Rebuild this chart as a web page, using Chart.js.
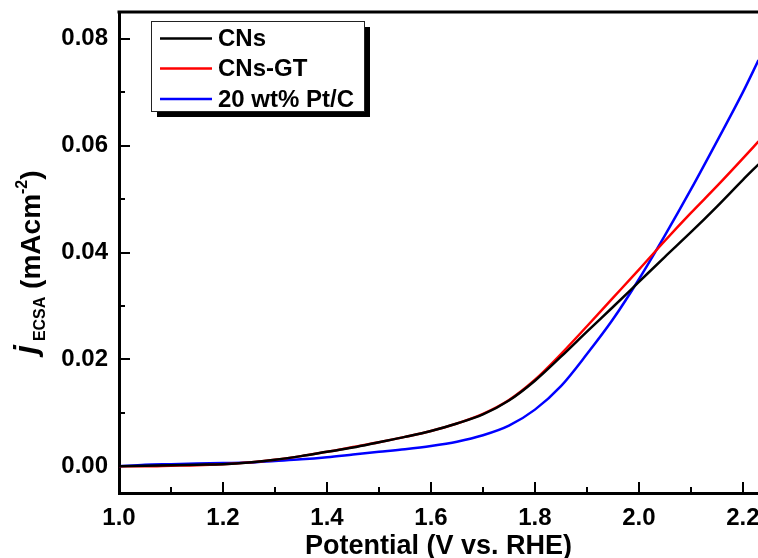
<!DOCTYPE html>
<html><head><meta charset="utf-8">
<script src="https://cdn.jsdelivr.net/npm/chart.js@4/dist/chart.umd.min.js"></script>
<style>html,body{margin:0;padding:0;background:#fff;overflow:hidden}#wrap{width:758px;height:558px}</style>
</head><body><div id="wrap"><canvas id="c" width="758" height="558"></canvas></div>
<script>
// ---- data ----
const potential = [1.00,1.05,1.10,1.15,1.20,1.25,1.30,1.35,1.40,1.45,1.50,1.55,1.60,1.65,1.70,1.75,1.80,1.85,1.90,1.95,2.00,2.05,2.10,2.15,2.20,2.23];
const cns      = [0.0000,0.0001,0.0002,0.0003,0.0004,0.0007,0.0012,0.0019,0.0027,0.0035,0.0045,0.0055,0.0066,0.0080,0.0097,0.0123,0.0160,0.0205,0.0252,0.0298,0.0345,0.0392,0.0438,0.0486,0.0536,0.0565];
const cnsGT    = [0.0000,0.0000,0.0001,0.0002,0.0004,0.0007,0.0012,0.0019,0.0027,0.0036,0.0045,0.0055,0.0066,0.0080,0.0098,0.0124,0.0162,0.0210,0.0262,0.0315,0.0368,0.0422,0.0474,0.0524,0.0576,0.0608];
const ptc      = [0.0000,0.0003,0.0004,0.0005,0.0006,0.0007,0.0010,0.0013,0.0017,0.0022,0.0027,0.0032,0.0038,0.0046,0.0058,0.0076,0.0106,0.0150,0.0210,0.0275,0.0350,0.0432,0.0518,0.0608,0.0700,0.0760];
const seriesNames = ['CNs','CNs-GT','20 wt% Pt/C'];
const seriesColors = ['#000000','#ff0000','#0000ff'];
const xTitle = 'Potential (V vs. RHE)';
const xRange = [1.0, 2.229];
const yRange = [-0.005, 0.085];

const FONT = "'Liberation Sans', Arial, sans-serif";
const toPts = ys => potential.map((x,i)=>({x, y: ys[i]}));
const seriesValues = [cns, cnsGT, ptc];

const framePlugin = {
  id: 'frame',
  afterDraw(chart) {
    const ctx = chart.ctx;
    const {left, right, top, bottom} = chart.chartArea;
    const xs = chart.scales.x, ys = chart.scales.y;
    ctx.save();
    ctx.strokeStyle = '#000';
    // top frame line
    ctx.lineWidth = 3;
    ctx.beginPath(); ctx.moveTo(left - 1.5, top); ctx.lineTo(chart.width, top); ctx.stroke();
    // inward ticks (major + minor) from scale ticks
    ctx.lineWidth = 2;
    const xt = xs.ticks.map(t => t.value);
    const xstep = xt[1] - xt[0];
    xt.forEach(v => {
      [[v, 11], [v + xstep/2, 6]].forEach(([val, len]) => {
        if (val < xs.min || val > xs.max) return;
        const px = Math.round(xs.getPixelForValue(val));
        ctx.beginPath(); ctx.moveTo(px, bottom); ctx.lineTo(px, bottom - len); ctx.stroke();
      });
    });
    const yt = ys.ticks.map(t => t.value);
    const ystep = yt[1] - yt[0];
    yt.forEach(v => {
      [[v, 11], [v + ystep/2, 6]].forEach(([val, len]) => {
        if (val < ys.min || val > ys.max) return;
        const py = Math.round(ys.getPixelForValue(val));
        ctx.beginPath(); ctx.moveTo(left, py); ctx.lineTo(left + len, py); ctx.stroke();
      });
    });
    // legend box with shadow
    const bx = 151, by = 21, bw = 213, bh = 90, sh = 6;
    ctx.fillStyle = '#000';
    ctx.fillRect(bx + sh, by + sh, bw, bh);
    ctx.fillStyle = '#fff';
    ctx.fillRect(bx, by, bw, bh);
    ctx.lineWidth = 1;
    ctx.strokeStyle = '#222';
    ctx.strokeRect(bx + 0.5, by + 0.5, bw, bh);
    const rows = [38.5, 68.5, 99];
    chart.data.datasets.forEach((ds, i) => {
      ctx.strokeStyle = ds.borderColor;
      ctx.lineWidth = 2.5;
      ctx.beginPath(); ctx.moveTo(160, rows[i]); ctx.lineTo(212, rows[i]); ctx.stroke();
      ctx.fillStyle = '#000';
      ctx.font = 'bold 24px ' + FONT;
      ctx.textBaseline = 'middle';
      ctx.textAlign = 'left';
      ctx.fillText(ds.label, 218, rows[i] + 1, 142);
    });
    // y-axis title with italic j, subscript and superscript
    ctx.translate(40, 354);
    ctx.rotate(-Math.PI/2);
    ctx.fillStyle = '#000';
    ctx.textBaseline = 'alphabetic';
    ctx.textAlign = 'left';
    let pos = 0;
    ctx.font = 'italic bold 32px ' + FONT;
    ctx.fillText('j', pos, -4); pos += ctx.measureText('j').width + 4;
    ctx.font = 'bold 16px ' + FONT;
    ctx.fillText('ECSA', pos, 5); pos += ctx.measureText('ECSA').width;
    ctx.font = 'bold 28px ' + FONT;
    ctx.fillText(' (mAcm', pos, 0); pos += ctx.measureText(' (mAcm').width;
    ctx.font = 'bold 16px ' + FONT;
    ctx.fillText('-2', pos, -13); pos += ctx.measureText('-2').width;
    ctx.font = 'bold 28px ' + FONT;
    ctx.fillText(')', pos, 0);
    ctx.restore();
  }
};

new Chart(document.getElementById('c'), {
  type: 'line',
  data: {
    datasets: seriesNames.map((name, i) => ({
      label: name,
      data: toPts(seriesValues[i]),
      borderColor: seriesColors[i],
      backgroundColor: seriesColors[i],
      borderWidth: 2.5,
      pointRadius: 0,
      cubicInterpolationMode: 'monotone',
      fill: false
    }))
  },
  options: {
    responsive: false,
    animation: false,
    devicePixelRatio: 1,
    layout: { padding: { top: 12, right: 0, left: 0, bottom: 0 } },
    plugins: { legend: { display: false }, tooltip: { enabled: false } },
    scales: {
      x: {
        type: 'linear', min: xRange[0], max: xRange[1],
        grid: { display: false, drawTicks: false },
        border: { display: true, color: '#000', width: 3 },
        ticks: { stepSize: 0.2, includeBounds: false, padding: 11, color: '#000', maxRotation: 0, autoSkip: false,
          font: { family: FONT, size: 24, weight: 'bold' },
          callback: v => Number(v).toFixed(1) },
        title: { display: true, text: xTitle, color: '#000', padding: { top: 0, bottom: -5 },
          font: { family: FONT, size: 27, weight: 'bold' } },
        afterFit(s) { s.height = 65; s.paddingRight = 0; s.paddingLeft = 0; }
      },
      y: {
        type: 'linear', min: yRange[0], max: yRange[1],
        grid: { display: false, drawTicks: false },
        border: { display: true, color: '#000', width: 3 },
        ticks: { stepSize: 0.02, includeBounds: false, padding: 11, color: '#000',
          font: { family: FONT, size: 24, weight: 'bold' },
          callback: v => Number(v).toFixed(2) },
        afterFit(s) { s.width = 119; s.paddingTop = 0; s.paddingBottom = 0; }
      }
    }
  },
  plugins: [framePlugin]
});
</script>
</body></html>
